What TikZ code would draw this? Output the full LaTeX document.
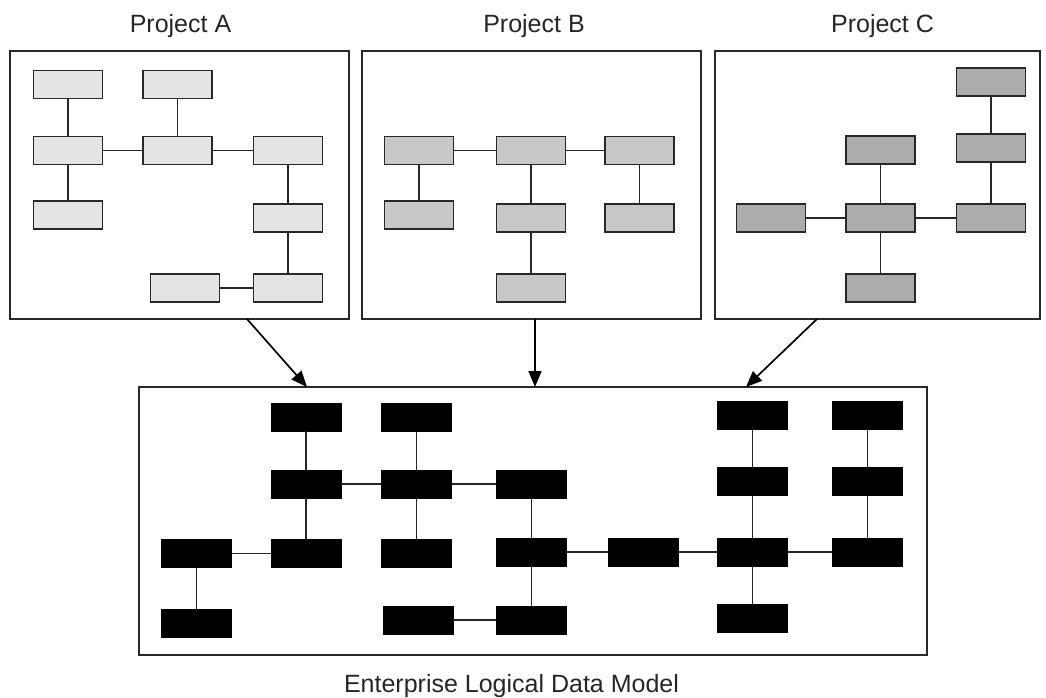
\documentclass[tikz,border=0pt]{standalone}
\usepackage{fontspec}
\setmainfont{Liberation Sans}
\usetikzlibrary{arrows.meta}
\definecolor{fillA}{RGB}{228,228,228}
\definecolor{fillB}{RGB}{200,200,200}
\definecolor{fillC}{RGB}{172,172,172}
\definecolor{edgegray}{RGB}{40,40,40}
\begin{document}
\begin{tikzpicture}[x=1pt,y=-1pt,
  frame/.style={draw=edgegray,line width=1.8pt,fill=none,inner sep=0pt},
  ent/.style={draw=edgegray,line width=1.7pt,minimum width=69pt,minimum height=28pt,inner sep=0pt},
  entA/.style={ent,fill=fillA},
  entB/.style={ent,fill=fillB},
  entC/.style={ent,fill=fillC},
  entE/.style={draw=black,line width=0.8pt,fill=black,minimum width=70pt,minimum height=28pt,inner sep=0pt},
  link/.style={draw=edgegray,line width=1.9pt},
  linkE/.style={draw=black!85,line width=1.5pt},
  arr/.style={draw=black,line width=1.7pt,-{Triangle[length=16pt,width=13pt]}},
  title/.style={font=\fontsize{25}{30}\selectfont,text=black!85,anchor=base,inner sep=0pt}
]
\useasboundingbox (0,0) rectangle (1046,698);
% frames
\node[frame,minimum width=339pt,minimum height=268pt] (boxA) at (179.5,185) {};
\node[frame,minimum width=339pt,minimum height=268pt] (boxB) at (531.5,185) {};
\node[frame,minimum width=325pt,minimum height=268pt] (boxC) at (877.5,185) {};
\node[frame,minimum width=788pt,minimum height=268pt] (boxE) at (533,521) {};
% titles
\node[title] (tA) at (180.5,33) {Project A};
\node[title] (tB) at (534,33) {Project B};
\node[title] (tC) at (882.5,33) {Project C};
\node[title] (tE) at (511.5,692) {Enterprise Logical Data Model};
% Project A
\node[entA] (a1) at (68,84.5) {};
\node[entA] (a2) at (177.5,84.5) {};
\node[entA] (a3) at (68,150.5) {};
\node[entA] (a4) at (177.5,150.5) {};
\node[entA] (a5) at (288,150.5) {};
\node[entA] (a6) at (68,215) {};
\node[entA] (a7) at (288,218) {};
\node[entA] (a8) at (185,288) {};
\node[entA] (a9) at (288,288) {};
\draw[link] (a1) -- (a3);
\draw[link] (a2) -- (a4);
\draw[link] (a3) -- (a4);
\draw[link] (a4) -- (a5);
\draw[link] (a3) -- (a6);
\draw[link] (a5) -- (a7);
\draw[link] (a7) -- (a9);
\draw[link] (a8) -- (a9);
% Project B
\node[entB] (b1) at (419,150.5) {};
\node[entB] (b2) at (531,150.5) {};
\node[entB] (b3) at (639.5,150.5) {};
\node[entB] (b4) at (419,215) {};
\node[entB] (b5) at (531,218) {};
\node[entB] (b6) at (639.5,218) {};
\node[entB] (b7) at (531,288) {};
\draw[link] (b1) -- (b2);
\draw[link] (b2) -- (b3);
\draw[link] (b1) -- (b4);
\draw[link] (b2) -- (b5);
\draw[link] (b5) -- (b7);
\draw[link] (b3) -- (b6);
% Project C
\node[entC] (c1) at (991,82) {};
\node[entC] (c2) at (880.5,150) {};
\node[entC] (c3) at (991,148) {};
\node[entC] (c4) at (771,218) {};
\node[entC] (c5) at (880.5,218) {};
\node[entC] (c6) at (991,218) {};
\node[entC] (c7) at (880.5,288) {};
\draw[link] (c1) -- (c3);
\draw[link] (c3) -- (c6);
\draw[link] (c2) -- (c5);
\draw[link] (c5) -- (c7);
\draw[link] (c4) -- (c5);
\draw[link] (c5) -- (c6);
% arrows
\coordinate (sA) at (247,319);
\coordinate (eA) at (307,387);
\coordinate (sB) at (535,319);
\coordinate (eB) at (535,387);
\coordinate (sC) at (817,319);
\coordinate (eC) at (746,387);
\draw[arr] (sA) -- (eA);
\draw[arr] (sB) -- (eB);
\draw[arr] (sC) -- (eC);
% Enterprise model
\node[entE] (e1) at (306,417) {};
\node[entE] (e2) at (416.5,417.5) {};
\node[entE] (e3) at (306,484) {};
\node[entE] (e4) at (416.5,484) {};
\node[entE] (e5) at (531.5,484) {};
\node[entE] (e6) at (196.5,553.5) {};
\node[entE] (e7) at (306,553.5) {};
\node[entE] (e8) at (416.5,553) {};
\node[entE] (e9) at (531.5,552) {};
\node[entE] (e10) at (196.5,623.5) {};
\node[entE] (e11) at (418,620) {};
\node[entE] (e12) at (531.5,620) {};
\node[entE] (e13) at (752.5,415.5) {};
\node[entE] (e14) at (867.5,415.5) {};
\node[entE] (e15) at (752.5,481.5) {};
\node[entE] (e16) at (867.5,481.5) {};
\node[entE] (e17) at (643,552) {};
\node[entE] (e18) at (752.5,552) {};
\node[entE] (e19) at (867.5,552) {};
\node[entE] (e20) at (752.5,618.5) {};
\draw[linkE] (e1) -- (e3);
\draw[linkE] (e3) -- (e7);
\draw[linkE] (e2) -- (e4);
\draw[linkE] (e4) -- (e8);
\draw[linkE] (e3) -- (e4);
\draw[linkE] (e4) -- (e5);
\draw[linkE] (e5) -- (e9);
\draw[linkE] (e9) -- (e12);
\draw[linkE] (e11) -- (e12);
\draw[linkE] (e6) -- (e7);
\draw[linkE] (e6) -- (e10);
\draw[linkE] (e9) -- (e17);
\draw[linkE] (e17) -- (e18);
\draw[linkE] (e18) -- (e19);
\draw[linkE] (e13) -- (e15);
\draw[linkE] (e15) -- (e18);
\draw[linkE] (e18) -- (e20);
\draw[linkE] (e14) -- (e16);
\draw[linkE] (e16) -- (e19);
\end{tikzpicture}
\end{document}
